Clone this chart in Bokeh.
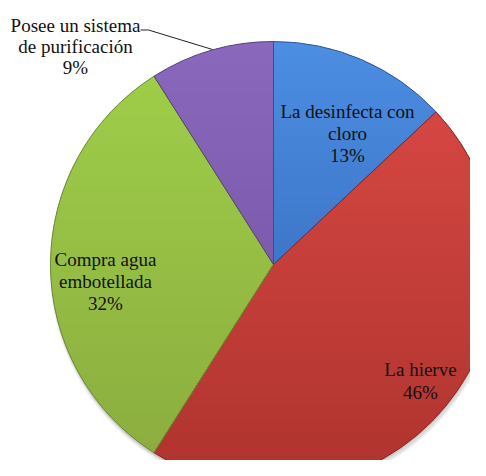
import math
from bokeh.plotting import figure
from bokeh.models import Range1d, ColumnDataSource
from bokeh.core.properties import value
from bokeh.embed import file_html
from bokeh.resources import INLINE

# ---- data ----
categories = ["La desinfecta con cloro", "La hierve", "Compra agua embotellada",
              "Posee un sistema de purificación"]
label_lines = [["La desinfecta con", "cloro"], ["La hierve"],
               ["Compra agua", "embotellada"], ["Posee un sistema", "de purificación"]]
percent = [13, 46, 32, 9]
top_colors = ["#4C8EE2", "#DC4A45", "#A0D04A", "#8A68BC"]
bottom_colors = ["#2E5FB0", "#AE332E", "#8AAB3E", "#6E4E9E"]
edge_colors = ["#2E5A96", "#8E2724", "#6A8A32", "#58407D"]

W, H = 470, 460


def Y(py):
    return H - py


def hex2rgb(h):
    h = h.lstrip("#")
    return tuple(int(h[i:i + 2], 16) for i in (0, 2, 4))


def lerp_col(c0, c1, t):
    a, b = hex2rgb(c0), hex2rgb(c1)
    return "#%02x%02x%02x" % tuple(int(round(a[i] + (b[i] - a[i]) * t)) for i in range(3))


def clip(poly, yv, keep_above):
    out = []
    n = len(poly)
    for i in range(n):
        P, Q = poly[i], poly[(i + 1) % n]
        pin = P[1] >= yv if keep_above else P[1] <= yv
        qin = Q[1] >= yv if keep_above else Q[1] <= yv
        if pin:
            out.append(P)
        if pin != qin:
            t = (yv - P[1]) / (Q[1] - P[1])
            out.append((P[0] + t * (Q[0] - P[0]), yv))
    return out


p = figure(width=W, height=H, output_backend="svg", toolbar_location=None,
           x_range=Range1d(0, W), y_range=Range1d(0, H),
           min_border=0, outline_line_color=None)
p.axis.visible = False
p.grid.visible = False
p.background_fill_color = "white"

cx, cy, r = 273, Y(264), 223

# soft shadow
for dx, dy, rr, a in [(1, -4, r + 2, 0.06), (1, -3, r + 1, 0.08), (0, -2, r, 0.10)]:
    p.circle(x=[cx + dx], y=[cy + dy], radius=rr, fill_color="#000000",
             fill_alpha=a, line_color=None)

total = sum(percent)
starts, ends = [], []
cum = 0
for v in percent:
    a0 = math.pi / 2 - 2 * math.pi * cum / total
    cum += v
    a1 = math.pi / 2 - 2 * math.pi * cum / total
    starts.append(a1)
    ends.append(a0)

# gradient fill by horizontal bands of each slice polygon
ytop, ybot = cy + r, cy - r
NB = 60
bx, by, bc = [], [], []
for s, e, c0, c1 in zip(starts, ends, top_colors, bottom_colors):
    n = max(8, int((e - s) / (2 * math.pi) * 360))
    poly = [(cx, cy)] + [(cx + r * math.cos(s + (e - s) * k / n),
                          cy + r * math.sin(s + (e - s) * k / n)) for k in range(n + 1)]
    for b in range(NB):
        y_hi = ytop - (ytop - ybot) * b / NB
        y_lo = ytop - (ytop - ybot) * (b + 1) / NB
        seg = clip(clip(poly, y_lo - 0.6, True), y_hi + 0.6, False)
        if len(seg) < 3:
            continue
        bx.append([q[0] for q in seg])
        by.append([q[1] for q in seg])
        bc.append(lerp_col(c0, c1, (b + 0.5) / NB))
p.patches(xs=bx, ys=by, fill_color=bc, line_color=None)

src = ColumnDataSource(dict(start=starts, end=ends, edge=edge_colors))
p.wedge(x=cx, y=cy, radius=r, start_angle="start", end_angle="end",
        fill_color=None, line_color="edge", line_width=1, source=src)

FONT = value("Liberation Serif")

# labels: line center positions (px)
label_pos = [(347, [111, 133, 155]), (420, [369, 392]), (105, [259, 281, 303]),
             (75, [25, 46, 67])]
for lines, pct, (lx, ys) in zip(label_lines, percent, label_pos):
    texts = lines + [f"{pct}%"]
    p.text(x=[lx] * len(texts), y=[Y(v) for v in ys], text=texts,
           text_font=FONT, text_font_size="19px",
           text_align="center", text_baseline="middle", text_color="#111111")

# leader line for the small slice
p.line(x=[140, 148, 212], y=[Y(29.5), Y(29.5), Y(49)], line_color="#222222", line_width=1)

open("out.html", "w").write(file_html(p, INLINE))
